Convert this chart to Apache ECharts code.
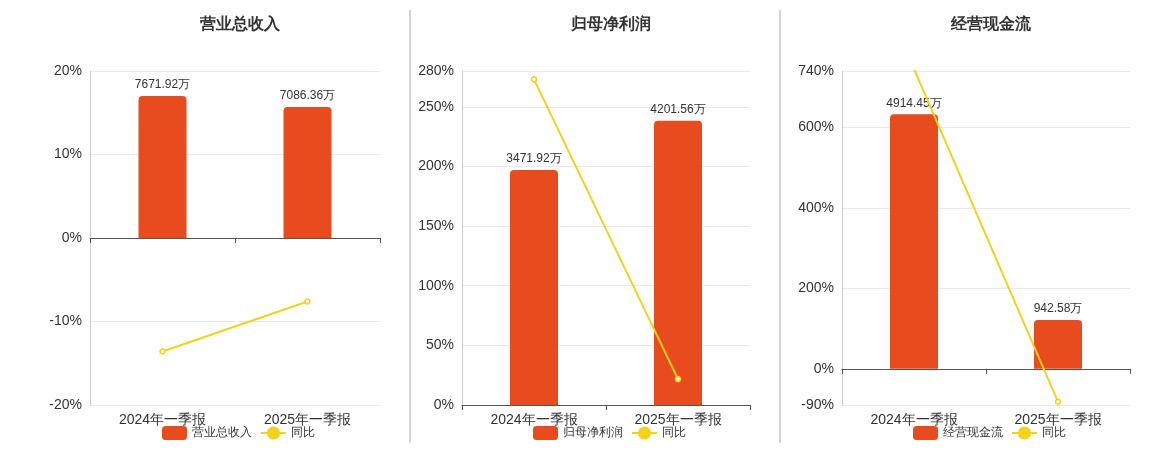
<!DOCTYPE html>
<html><head><meta charset="utf-8">
<script src="https://cdn.jsdelivr.net/npm/echarts@6/dist/echarts.min.js"></script>
<style>html,body{margin:0;padding:0;background:#fff}#c{width:1160px;height:450px}</style>
</head><body><div id="c"></div>
<script>
const categories = ['2024年一季报','2025年一季报'];
const titles = ['营业总收入','归母净利润','经营现金流'];
const revenue = [7671.92, 7086.36];
const revenueYoY = [-13.6, -7.6];
const profit = [3471.92, 4201.56];
const profitYoY = [273, 21.7];
const cash = [4914.45, 942.58];
const cashYoY = [745, -82];

const BAR = '#E84C1E', LINE = '#F2D21B';
const chart = echarts.init(document.getElementById('c'));
const panels = [
  {bars: revenue, yoy: revenueYoY, left: 90, width: 290, pMin: -20, pMax: 20, interval: 10, bMin: -9026, bMax: 9026, labels: null},
  {bars: profit, yoy: profitYoY, left: 462, width: 288, pMin: 0, pMax: 280, interval: 50, bMin: 0, bMax: 4935, labels: null},
  {bars: cash, yoy: cashYoY, left: 842, width: 288, pMin: -90, pMax: 740, interval: 200, bMin: -699, bMax: 5750, labels: [-90,0,200,400,600,740]}
];
const option = {grid: [], xAxis: [], yAxis: [], series: [], title: [], legend: [], graphic: []};
const centers = [235, 606, 986];
panels.forEach((p, i) => {
  option.grid.push({left: p.left, width: p.width, top: 71, height: 334});
  option.title.push({text: titles[i], left: centers[i], textAlign: 'center', top: 12,
    textStyle: {fontSize: 16, fontWeight: 'bold', color: '#333'}});
  option.xAxis.push({type: 'category', gridIndex: i, data: categories,
    axisLine: {onZero: true, lineStyle: {color: '#555'}}, axisTick: {show: true, lineStyle: {color: '#555'}},
    axisLabel: {color: '#333', fontSize: 14, margin: 8, show: true}, position: 'bottom'});
  const ya = {type: 'value', gridIndex: i, min: p.pMin, max: p.pMax, interval: p.interval,
    axisLine: {show: true, lineStyle: {color: '#ccc'}},
    axisLabel: {formatter: '{value}%', color: '#333', fontSize: 14, showMaxLabel: true},
    splitLine: {lineStyle: {color: '#e6e9ef'}}};
  if (p.labels) {
    ya.min = -90; ya.interval = undefined;
    ya.axisLabel.customValues = p.labels;
    ya.axisTick = {customValues: p.labels};
    ya.splitLine.customValues = p.labels;
  }
  option.yAxis.push(ya);
  option.yAxis.push({type: 'value', gridIndex: i, min: p.bMin, max: p.bMax, show: false, splitLine: {show: false}});
  option.series.push({name: titles[i], type: 'bar', xAxisIndex: i, yAxisIndex: 2*i+1, data: p.bars, barWidth: 48,
    itemStyle: {color: BAR, borderRadius: [4,4,0,0]},
    label: {show: true, position: 'top', formatter: v => v.value + '万', color: '#333', fontSize: 12}});
  option.series.push({name: '同比', type: 'line', xAxisIndex: i, yAxisIndex: 2*i, data: p.yoy,
    symbol: 'circle', symbolSize: 5, itemStyle: {color: '#fff', borderColor: LINE, borderWidth: 1.5},
    lineStyle: {color: LINE, width: 2}});
  option.legend.push({data: [{name: titles[i], itemStyle: {color: BAR}}, {name: '同比', itemStyle: {color: LINE}}],
    left: centers[i] - 25, bottom: 5, textStyle: {fontSize: 12, color: '#333'}, itemWidth: 25, itemHeight: 14});
});
option.legend.forEach((l, i) => { l.left = centers[i] - 78; });
option.graphic = [410, 780].map(x => ({type: 'line', shape: {x1: x, y1: 10, x2: x, y2: 443}, style: {stroke: '#aaa', lineWidth: 1}}));
chart.setOption(option);
</script></body></html>
